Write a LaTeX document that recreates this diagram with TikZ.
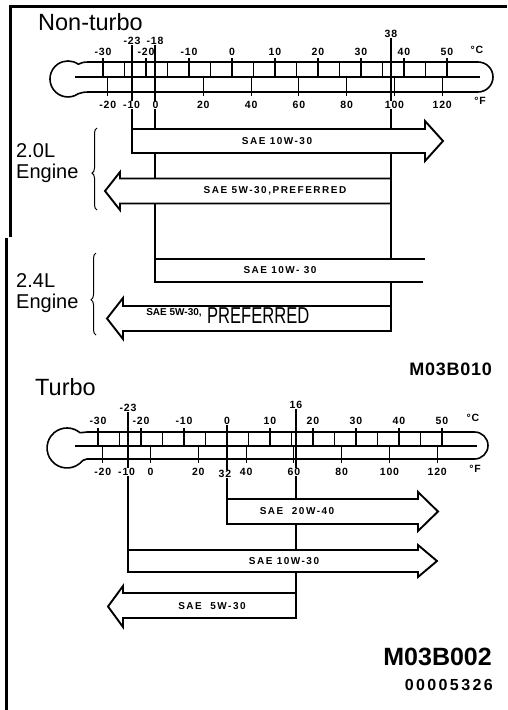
\documentclass[tikz,border=0pt]{standalone}
\usepackage{fontspec}
\setmainfont{Liberation Sans}
\newfontfamily\oilfont[LetterSpace=15]{Liberation Sans}
\newfontfamily\tickfont[LetterSpace=8]{Liberation Sans}
\newfontfamily\narrowfont[FakeStretch=0.72]{Liberation Sans}
\newfontfamily\codefont[LetterSpace=4]{Liberation Sans}
\newfontfamily\serialfont[LetterSpace=15]{Liberation Sans}
\usetikzlibrary{
	decorations.pathreplacing
}
\tikzset{
	thermo/.style={
		line width=1.6pt
		,line join=round
	},
	tickline/.style={
		line width=1.2pt
	},
	refline/.style={
		line width=1.1pt
	},
	oilarrow/.style={
		draw
		,fill=white
		,line width=1.9pt
		,line join=miter
	},
	oiltext/.style={
		font=\oilfont\bfseries\fontsize{10}{12}\selectfont
		,inner sep=0pt
	},
	degree/.style={
		font=\tickfont\bfseries\fontsize{10.5}{12}\selectfont
		,inner sep=0.5pt
	},
	degreef/.style={
		degree
		,fill=white
	},
	title/.style={
		font=\fontsize{23.5}{26}\selectfont
		,inner sep=0pt
	},
	engine/.style={
		font=\fontsize{20}{21}\selectfont
		,align=left
		,inner sep=0pt
	},
	engbrace/.style={
		decorate
		,decoration={brace, amplitude=5pt, aspect=#1}
		,line width=1pt
	},
	frame/.style={
		line width=3pt
	}
}

\begin{document}
\begin{tikzpicture}[x=1pt, y=-1pt]
\useasboundingbox (0,0) rectangle (507,710);

% frame
\draw[frame] (507,6) -- (10,6) -- (10,237);
\draw[frame] (6,238) -- (6,710);

%%% Non-turbo
\node[title, anchor=base west] (nonturbo) at (38,30) {Non-turbo};

% scale labels
\foreach \dc [count=\i] in {-30,-20,...,50}{
	\node[degree] (nc\i) at ({232+4.3*\dc},52) {\dc};
}
\node[degree] (ncu) at (477,50) {°C};
\node[degree] (nfu) at (480,101) {°F};
\node[degree] (n23) at (132,41) {-23};
\node[degree] (n18) at (155,41) {-18};
\node[degree] (n38) at (391,34) {38};

% arrow corners
\coordinate (a1nw) at (132,129);
\coordinate (a2ne) at (391,178.5);
\coordinate (b1nw) at (155,259);
\coordinate (b2ne) at (391,306);

% reference lines
\draw[refline] (n23.south) -- (a1nw);
\draw[refline] (n18.south) -- (b1nw);
\draw[refline] (n38.south) -- (b2ne);

% thermometer
\draw[thermo] (88,62) -- (478,62) arc(-90:90:15) -- (88,92)
	.. controls (83,92) and (81,93) .. (78.3,93.7) arc(55:305:18)
	.. controls (81,63) and (83,62) .. (88,62) -- cycle;
\draw[thermo] (75,77) -- (480,77);
\foreach \dc in {-30,-25,...,50}{
	\draw[tickline] ({232+4.3*\dc},62) -- ({232+4.3*\dc},77);
}
\foreach \dc in {-30,-20,...,50}{
	\draw[tickline] ({232+4.3*\dc},58) -- ({232+4.3*\dc},62);
}
\foreach \df in {-20,0,...,120}{
	\draw[tickline] ({232+2.389*(\df-32)},77) -- ({232+2.389*(\df-32)},96);
}
\foreach \df [count=\i] in {-20,-10,0,20,40,60,80,100,120}{
	\node[degreef] (nf\i) at ({232+2.389*(\df-32)},105) {\df};
}

% 2.0L
\node[engine, anchor=west] (eng20) at (16,163) {2.0L\\Engine};
\draw[engbrace=0.45] (97,210) -- (97,128);

\draw[oilarrow] (a1nw) -- (425,129) -- (425,121) -- (443,141) -- (425,161)
	-- (425,153) -- (132,153) -- cycle;
\node[oiltext] (a1txt) at (277,141) {SAE 10W-30};

\draw[oilarrow] (a2ne) -- (120,178.5) -- (120,172) -- (105,191) -- (120,210)
	-- (120,203.5) -- (391,203.5) -- cycle;
\node[oiltext] (a2txt) at (275,191) {SAE 5W-30,PREFERRED};

% 2.4L
\node[engine, anchor=west] (eng24) at (16,293) {2.4L\\Engine};
\draw[engbrace=0.43] (96,335) -- (96,253);

\fill[white] (b1nw) rectangle (424,282);
\draw[oilarrow, fill=none] (425,259) -- (b1nw) -- (155,282) -- (423,282);
\node[oiltext] (b1txt) at (280,270) {SAE 10W- 30};

\draw[oilarrow] (b2ne) -- (123,306) -- (123,298) -- (107,318.5) -- (123,339)
	-- (123,331) -- (391,331) -- cycle;
\node[font=\bfseries\fontsize{10}{10}\selectfont, inner sep=0pt] (b2sae) at (174,313) {SAE 5W-30,};
\node[font=\narrowfont\fontsize{23}{23}\selectfont, inner sep=0pt, anchor=base west] (b2pref) at (207,323.5) {PREFERRED};

\node[font=\codefont\bfseries\fontsize{18}{18}\selectfont, inner sep=0pt, anchor=base east] (code1) at (492,375) {M03B010};

%%% Turbo
\node[title, anchor=base west] (turbo) at (35,395) {Turbo};

\foreach \dc [count=\i] in {-30,-20,...,50}{
	\node[degree] (tc\i) at ({227+4.3*\dc},421) {\dc};
}
\node[degree] (tcu) at (473,418) {°C};
\node[degree] (tfu) at (475,469) {°F};
\node[degree] (tm23) at (128,408) {-23};
\node[degree] (tm16) at (296,405) {16};

\coordinate (c1nw) at (227,499);
\coordinate (c2nw) at (128,550);
\coordinate (c3ne) at (296,593);

\draw[refline] (tm23.south) -- (c2nw);
\draw[refline] (tc4.south) -- (c1nw);
\draw[refline] (tm16.south) -- (c3ne);

\draw[thermo] (87,432) -- (474.5,432) arc(-90:90:13.5) -- (87,459)
	.. controls (84,459) and (82,461) .. (79.9,463.3) arc(50:310:20)
	.. controls (82,433) and (84,432) .. (87,432) -- cycle;
\draw[thermo] (75,446) -- (477,446);
\foreach \dc in {-30,-25,...,50}{
	\draw[tickline] ({227+4.3*\dc},432) -- ({227+4.3*\dc},446);
}
\foreach \dc in {-30,-20,...,50}{
	\draw[tickline] ({227+4.3*\dc},428) -- ({227+4.3*\dc},432);
}
\foreach \df in {-20,0,...,120}{
	\draw[tickline] ({227+2.389*(\df-32)},446) -- ({227+2.389*(\df-32)},463);
}
\foreach \df [count=\i] in {-20,-10,0,20,40,60,80,100,120}{
	\node[degreef] (tf\i) at ({227+2.389*(\df-32)},472) {\df};
}
\node[degreef] (tf32) at (225,474) {32};

\draw[oilarrow] (c1nw) -- (418,499) -- (418,492) -- (438,511.5) -- (418,531)
	-- (418,524) -- (227,524) -- cycle;
\node[oiltext] (c1txt) at (297,511) {SAE\ \ 20W-40};

\draw[oilarrow] (c2nw) -- (418,550) -- (418,545) -- (437,561) -- (418,577)
	-- (418,572) -- (128,572) -- cycle;
\node[oiltext] (c2txt) at (284,561) {SAE 10W-30};

\draw[oilarrow] (c3ne) -- (123,593) -- (123,586) -- (108,606.5) -- (123,627)
	-- (123,618) -- (296,618) -- cycle;
\node[oiltext] (c3txt) at (212,606) {SAE\ \ 5W-30};

\node[font=\bfseries\fontsize{25}{25}\selectfont, inner sep=0pt, anchor=base east] (code2) at (492,665) {M03B002};
\node[font=\serialfont\bfseries\fontsize{16}{16}\selectfont, inner sep=0pt, anchor=base east] (serial) at (493,690) {00005326};
\end{tikzpicture}
\end{document}
